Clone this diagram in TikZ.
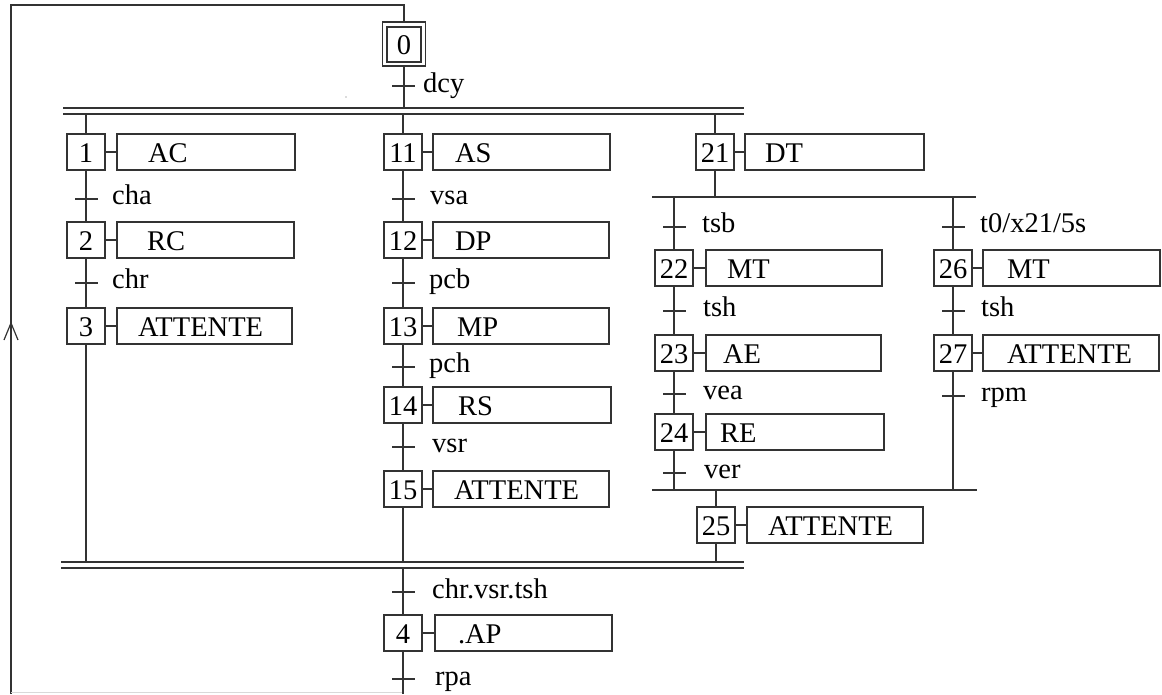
\documentclass[tikz,border=0pt]{standalone}
\usepackage{fontspec}
\setmainfont{Liberation Serif}
\begin{document}
\begin{tikzpicture}[x=1pt,y=-1pt,
  every node/.style={font=\fontsize{28.5}{31}\selectfont, text=black},
  ln/.style={draw=black!80, line width=1.2pt},
  stp/.style={ln, minimum width=38pt, minimum height=36pt, inner sep=0pt, outer sep=0pt, text height=20pt, text depth=0pt},
  act/.style={ln, anchor=west, minimum height=36pt, inner ysep=0pt, outer sep=0pt, text height=20pt, text depth=0pt, align=left},
  lbl/.style={anchor=base west, inner sep=0pt}]
\useasboundingbox (0,0) rectangle (1162,694);

% initial step
\node[stp, minimum width=43pt, minimum height=44pt] (s0o) at (404,44) {};
\node[stp, minimum width=34pt, minimum height=35pt] (s0) at (404,44.5) {0};

% loop back
\coordinate (ltop) at (11,5);
\coordinate (lbot) at (11,694);
\coordinate (bend) at (403,692);
\draw[ln] (s0o.north) |- (ltop) -- (lbot);
\draw[ln] (4,340) -- (11,323) -- (18,340);
\draw[draw=black!15, line width=1pt] (11,692) -- (bend);
\fill[black!60] (346,97) circle (0.7);

% dcy
\coordinate (tb) at (404,108);
\draw[ln] (s0o.south) -- (tb);
\draw[ln] (392,86) -- (415,86);
\node[lbl] (tdcy) at (423,92) {dcy};

% top double bar (AND divergence)
\draw[ln] (63,108) -- (744,108) (63,114) -- (744,114);

% ---- column 1 ----
\node[stp] (s1) at (86,152) {1};
\node[act, minimum width=178pt, inner xsep=31pt, text width=116pt] (a1) at (117,152) {AC};
\node[stp] (s2) at (86,240) {2};
\node[act, minimum width=177pt, inner xsep=30pt, text width=117pt] (a2) at (117,240) {RC};
\node[stp] (s3) at (86,326) {3};
\node[act, minimum width=175pt, inner xsep=21pt, text width=133pt] (a3) at (117,326) {ATTENTE};
\coordinate (c1t) at (86,114);
\coordinate (c1b) at (86,562);
\draw[ln] (c1t) -- (s1) (s1) -- (s2) (s2) -- (s3) (s3) -- (c1b);
\draw[ln] (s1.east) -- (a1.west) (s2.east) -- (a2.west) (s3.east) -- (a3.west);
\draw[ln] (75,199) -- (98,199) (75,283) -- (98,283);
\node[lbl] (tcha) at (112,204) {cha};
\node[lbl] (tchr) at (112,288) {chr};

% ---- column 2 ----
\node[stp] (s11) at (403,152) {11};
\node[act, minimum width=177pt, inner xsep=22pt, text width=133pt] (a11) at (433,152) {AS};
\node[stp] (s12) at (403,240) {12};
\node[act, minimum width=176pt, inner xsep=22pt, text width=132pt] (a12) at (433,240) {DP};
\node[stp] (s13) at (403,326) {13};
\node[act, minimum width=176pt, inner xsep=24pt, text width=128pt] (a13) at (433,326) {MP};
\node[stp] (s14) at (403,405) {14};
\node[act, minimum width=178pt, inner xsep=25pt, text width=128pt] (a14) at (433,405) {RS};
\node[stp] (s15) at (403,489) {15};
\node[act, minimum width=176pt, inner xsep=21pt, text width=134pt] (a15) at (433,489) {ATTENTE};
\coordinate (c2t) at (403,114);
\coordinate (c2b) at (403,562);
\draw[ln] (c2t) -- (s11) (s11) -- (s12) (s12) -- (s13) (s13) -- (s14) (s14) -- (s15) (s15) -- (c2b);
\draw[ln] (s11.east) -- (a11.west) (s12.east) -- (a12.west) (s13.east) -- (a13.west) (s14.east) -- (a14.west) (s15.east) -- (a15.west);
\draw[ln] (392,199) -- (415,199) (392,283) -- (415,283) (392,367) -- (415,367) (392,447) -- (415,447);
\node[lbl] (tvsa) at (430,204) {vsa};
\node[lbl] (tpcb) at (429,288) {pcb};
\node[lbl] (tpch) at (429,372) {pch};
\node[lbl] (tvsr) at (432,452) {vsr};

% ---- column 3 ----
\node[stp] (s21) at (715,152) {21};
\node[act, minimum width=179pt, inner xsep=20pt, text width=139pt] (a21) at (745,152) {DT};
\coordinate (c3t) at (715,114);
\coordinate (c3d) at (715,197);
\draw[ln] (c3t) -- (s21) (s21) -- (c3d) (s21.east) -- (a21.west);
% OR divergence bar
\draw[ln] (652,197) -- (976,197);

% branch A
\node[stp] (s22) at (674,268) {22};
\node[act, minimum width=176pt, inner xsep=21pt, text width=134pt] (a22) at (706,268) {MT};
\node[stp] (s23) at (674,353) {23};
\node[act, minimum width=175pt, inner xsep=17pt, text width=141pt] (a23) at (706,353) {AE};
\node[stp] (s24) at (674,432) {24};
\node[act, minimum width=178pt, inner xsep=14pt, text width=150pt] (a24) at (706,432) {RE};
\coordinate (bat) at (674,197);
\coordinate (bab) at (674,490);
\draw[ln] (bat) -- (s22) (s22) -- (s23) (s23) -- (s24) (s24) -- (bab);
\draw[ln] (s22.east) -- (a22.west) (s23.east) -- (a23.west) (s24.east) -- (a24.west);
\draw[ln] (663,227) -- (686,227) (663,311) -- (686,311) (663,394) -- (686,394) (663,473) -- (686,473);
\node[lbl] (ttsb) at (702,232) {tsb};
\node[lbl] (ttsh1) at (703,316) {tsh};
\node[lbl] (tvea) at (703,399) {vea};
\node[lbl] (tver) at (704,478) {ver};

% branch B
\node[stp] (s26) at (953,268) {26};
\node[act, minimum width=177pt, inner xsep=24pt, text width=129pt] (a26) at (983,268) {MT};
\node[stp] (s27) at (953,353) {27};
\node[act, minimum width=176pt, inner xsep=24pt, text width=128pt] (a27) at (983,353) {ATTENTE};
\coordinate (bbt) at (953,197);
\coordinate (bbb) at (953,490);
\draw[ln] (bbt) -- (s26) (s26) -- (s27) (s27) -- (bbb);
\draw[ln] (s26.east) -- (a26.west) (s27.east) -- (a27.west);
\draw[ln] (942,227) -- (965,227) (942,311) -- (965,311) (942,396) -- (965,396);
\node[lbl] (tt0) at (980,232) {t0/x21/5s};
\node[lbl] (ttsh2) at (981,316) {tsh};
\node[lbl] (trpm) at (981,401) {rpm};

% OR convergence bar
\draw[ln] (652,490) -- (977,490);
\node[stp] (s25) at (716,525) {25};
\node[act, minimum width=176pt, inner xsep=21pt, text width=134pt] (a25) at (747,525) {ATTENTE};
\coordinate (c25t) at (716,490);
\coordinate (c25b) at (716,562);
\draw[ln] (c25t) -- (s25) (s25) -- (c25b) (s25.east) -- (a25.west);

% bottom double bar (AND convergence)
\draw[ln] (61,562) -- (744,562) (61,568) -- (744,568);

% step 4
\node[stp] (s4) at (403,633) {4};
\node[act, minimum width=177pt, inner xsep=23pt, text width=131pt] (a4) at (435,633) {.AP};
\coordinate (c4t) at (403,568);
\coordinate (c4b) at (403,694);
\draw[ln] (c4t) -- (s4) (s4) -- (c4b) (s4.east) -- (a4.west);
\draw[ln] (392,592) -- (415,592) (392,679) -- (415,679);
\node[lbl] (tcvt) at (432,598) {chr.vsr.tsh};
\node[lbl] (trpa) at (435,685) {rpa};

\end{tikzpicture}
\end{document}
